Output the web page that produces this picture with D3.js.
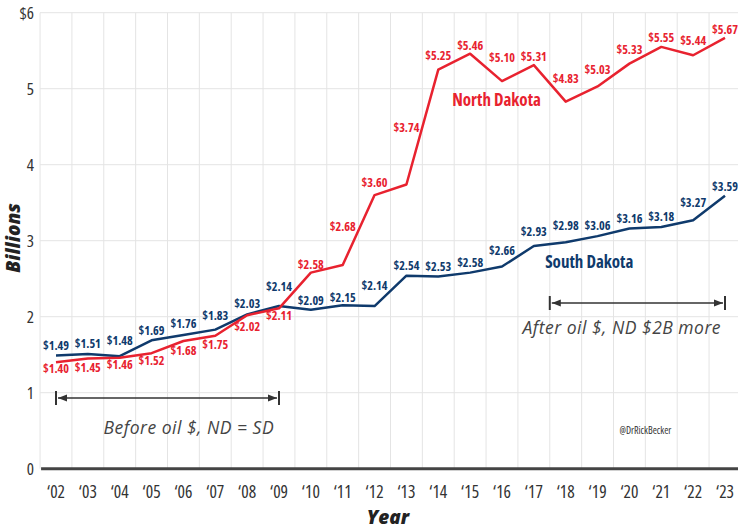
<!DOCTYPE html>
<html>
<head>
<meta charset="utf-8">
<script src="https://cdn.jsdelivr.net/npm/d3@7"></script>
<style>
  body { margin: 0; background: #fff; }
  .cond { font-family: "Open Sans", sans-serif; font-stretch: condensed; }
  .title { font-family: "Open Sans", sans-serif; font-weight: 800; font-style: italic; }
  .note { font-family: "Open Sans", sans-serif; font-style: italic; font-weight: 400; }
</style>
</head>
<body>
<div id="chart"></div>
<script>
// data (billions of dollars)
var years = [2002, 2003, 2004, 2005, 2006, 2007, 2008, 2009, 2010, 2011, 2012,
             2013, 2014, 2015, 2016, 2017, 2018, 2019, 2020, 2021, 2022, 2023];
var yearLabels = ["‘02", "‘03", "‘04", "‘05", "‘06", "‘07", "‘08", "‘09", "‘10", "‘11", "‘12",
                  "‘13", "‘14", "‘15", "‘16", "‘17", "‘18", "‘19", "‘20", "‘21", "‘22", "‘23"];
var southDakota = [1.49, 1.51, 1.48, 1.69, 1.76, 1.83, 2.03, 2.14, 2.09, 2.15, 2.14,
                   2.54, 2.53, 2.58, 2.66, 2.93, 2.98, 3.06, 3.16, 3.18, 3.27, 3.59];
var northDakota = [1.40, 1.45, 1.46, 1.52, 1.68, 1.75, 2.02, 2.11, 2.58, 2.68, 3.60,
                   3.74, 5.25, 5.46, 5.10, 5.31, 4.83, 5.03, 5.33, 5.55, 5.44, 5.67];
var yTicks = [0, 1, 2, 3, 4, 5, 6];

// label nudges (px from the point) so the numbers clear the lines
var sdLabelDy = [-10, -10, -15, -10, -11, -14, -11, -19, -9, -8, -20,
                 -10, -10, -10, -16, -14, -16, -10, -10, -10, -17, -9];
var ndLabelDy = [6, 9, 7, 8, 10, 9, 12, 7, -8, -38, -12,
                 -57, -14, -8, -23, -8, -23, -17, -14, -9, -15, -8];

var red = "#e8222f", navy = "#0f3a6c";

var width = 738, height = 529;

var svg = d3.select('#chart').append('svg')
            .attr('width', width)
            .attr('height', height);

var x = d3.scaleLinear().domain([2002, 2023]).range([56, 725]);
var y = d3.scaleLinear().domain([0, 6]).range([468.7, 12.7]);

// grid
var grid = svg.append('g').attr('stroke', '#e4e4e4').attr('stroke-width', 1);
grid.selectAll('.hg').data(yTicks.slice(1)).enter().append('line')
    .attr('x1', x(2001.5)).attr('x2', width)
    .attr('y1', function(d){ return y(d) }).attr('y2', function(d){ return y(d) });
grid.selectAll('.vg').data(years).enter().append('line')
    .attr('x1', function(d){ return x(d - 0.5) }).attr('x2', function(d){ return x(d - 0.5) })
    .attr('y1', y(6)).attr('y2', y(0));

// y axis labels
svg.append('g').attr('class', 'cond')
   .selectAll('text').data(yTicks).enter().append('text')
   .attr('x', 34).attr('y', function(d){ return y(d) })
   .attr('dy', '0.35em').attr('text-anchor', 'end')
   .attr('font-size', 17).attr('fill', '#333')
   .text(function(d){ return d === 6 ? '$6' : d });

// baseline
svg.append('line')
   .attr('x1', x(2001.5) + 1).attr('x2', width)
   .attr('y1', y(0)).attr('y2', y(0))
   .attr('stroke', '#444').attr('stroke-width', 3);

// x axis labels
svg.append('g').attr('class', 'cond')
   .selectAll('text').data(years).enter().append('text')
   .attr('x', function(d){ return x(d) }).attr('y', 497.5)
   .attr('text-anchor', 'middle').attr('font-size', 17.5).attr('fill', '#333')
   .text(function(d, i){ return yearLabels[i] });

// axis titles
svg.append('text').attr('class', 'title')
   .attr('x', 388).attr('y', 524).attr('text-anchor', 'middle')
   .attr('font-size', 19).attr('fill', '#222').text('Year');
svg.append('text').attr('class', 'title')
   .attr('transform', 'translate(20,238) rotate(-90)').attr('text-anchor', 'middle')
   .attr('font-size', 19).attr('fill', '#222').text('Billions');

// lines
var line = d3.line()
    .x(function(d, i){ return x(years[i]) })
    .y(function(d){ return y(d) });

svg.append('path').datum(southDakota)
   .attr('fill', 'none').attr('stroke', navy).attr('stroke-width', 2.5)
   .attr('stroke-linejoin', 'round').attr('d', line);
svg.append('path').datum(northDakota)
   .attr('fill', 'none').attr('stroke', red).attr('stroke-width', 2.5)
   .attr('stroke-linejoin', 'round').attr('d', line);

// value labels
function valueLabels(values, offsets, color) {
    svg.append('g').attr('class', 'cond')
       .selectAll('text').data(values).enter().append('text')
       .attr('x', function(d, i){ return x(years[i]) })
       .attr('y', function(d, i){ return y(d) + offsets[i] })
       .attr('dy', '0.35em').attr('text-anchor', 'middle')
       .attr('font-size', 12.2).attr('font-weight', 'bold').attr('fill', color)
       .text(function(d){ return '$' + d.toFixed(2) });
}
valueLabels(southDakota, sdLabelDy, navy);
valueLabels(northDakota, ndLabelDy, red);

// series names
svg.append('text').attr('class', 'cond')
   .attr('x', x(2015.83)).attr('y', y(4.85)).attr('dy', '0.35em')
   .attr('text-anchor', 'middle').attr('font-size', 17).attr('font-weight', 'bold')
   .attr('fill', red).text('North Dakota');
svg.append('text').attr('class', 'cond')
   .attr('x', x(2018.74)).attr('y', y(2.72)).attr('dy', '0.35em')
   .attr('text-anchor', 'middle').attr('font-size', 17).attr('font-weight', 'bold')
   .attr('fill', navy).text('South Dakota');

// span brackets
var spans = [
    {from: 2002, to: 2009, at: 0.93, text: 'Before oil $, ND = SD', textYear: 2006.17, textAt: 0.54},
    {from: 2017.5, to: 2023, at: 2.18, text: 'After oil $, ND $2B more', textYear: 2019.76, textAt: 1.85}
];

svg.append('defs').selectAll('marker').data(['s', 'e']).enter().append('marker')
   .attr('id', function(d){ return 'arr-' + d })
   .attr('viewBox', '0 0 10 10').attr('refX', function(d){ return d === 's' ? 0 : 10 }).attr('refY', 5)
   .attr('markerWidth', 9).attr('markerHeight', 9).attr('markerUnits', 'userSpaceOnUse')
   .attr('orient', 'auto')
   .append('path')
   .attr('d', function(d){ return d === 's' ? 'M10,1L0,5L10,9Z' : 'M0,1L10,5L0,9Z' })
   .attr('fill', '#333');

var br = svg.append('g').selectAll('g').data(spans).enter().append('g');
br.append('line')
  .attr('x1', function(d){ return x(d.from) + 2 }).attr('x2', function(d){ return x(d.to) - 2 })
  .attr('y1', function(d){ return y(d.at) }).attr('y2', function(d){ return y(d.at) })
  .attr('stroke', '#333').attr('stroke-width', 1.3)
  .attr('marker-start', 'url(#arr-s)').attr('marker-end', 'url(#arr-e)');
br.selectAll('.tick').data(function(d){ return [d.from, d.to].map(function(v){ return {v: v, at: d.at} }) })
  .enter().append('line')
  .attr('x1', function(d){ return x(d.v) }).attr('x2', function(d){ return x(d.v) })
  .attr('y1', function(d){ return y(d.at) - 7 }).attr('y2', function(d){ return y(d.at) + 7 })
  .attr('stroke', '#333').attr('stroke-width', 2);
br.append('text').attr('class', 'note')
  .attr('x', function(d){ return x(d.textYear) })
  .attr('y', function(d){ return y(d.textAt) }).attr('dy', '0.35em')
  .attr('text-anchor', 'middle').attr('font-size', 17.5).attr('fill', '#444')
  .attr('letter-spacing', 0.5)
  .text(function(d){ return d.text });

// credit
svg.append('text').attr('class', 'cond')
   .attr('x', x(2020.5)).attr('y', 430).attr('dy', '0.35em')
   .attr('text-anchor', 'middle').attr('font-size', 10).attr('fill', '#333')
   .text('@DrRickBecker');
</script>
</body>
</html>
